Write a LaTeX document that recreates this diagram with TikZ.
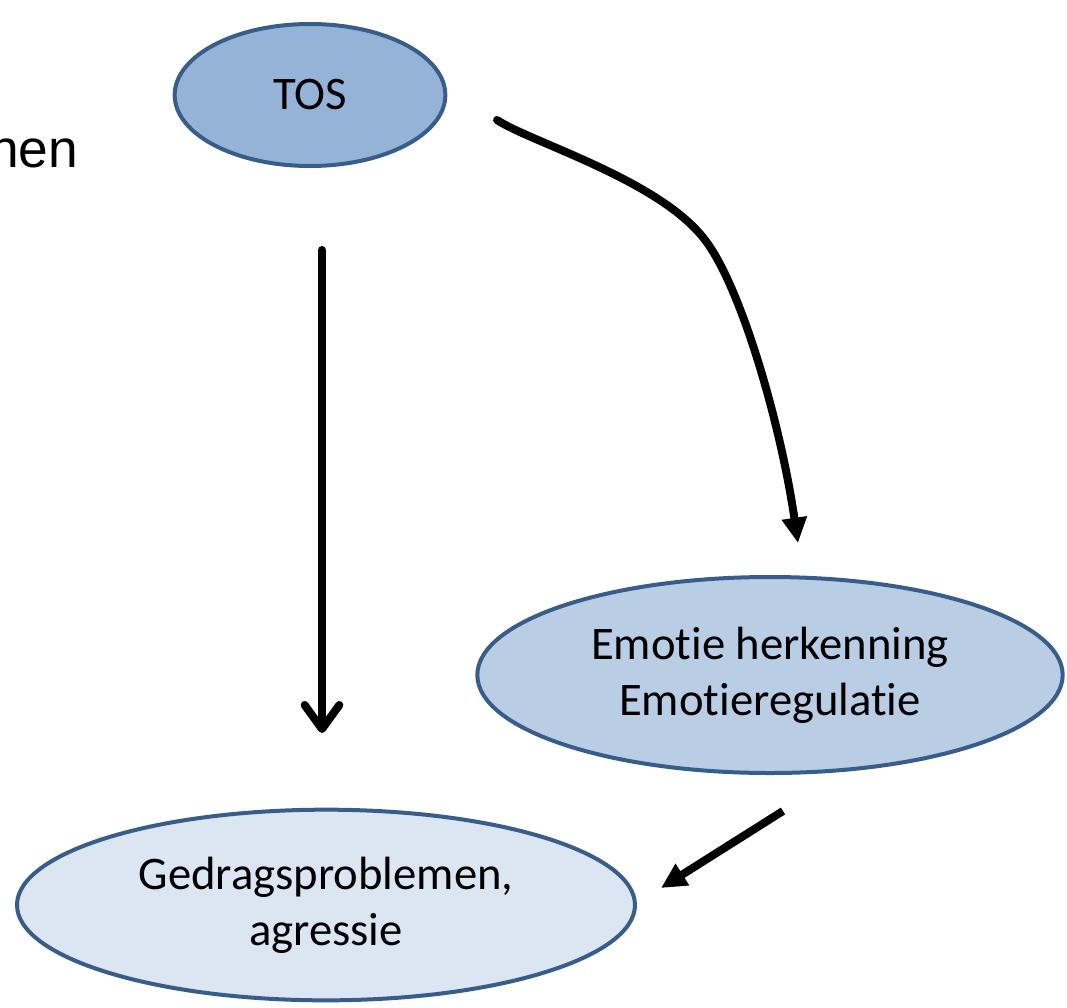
\documentclass[tikz,border=0pt]{standalone}
\usepackage{fontspec}
\setmainfont[Ligatures=NoCommon]{Carlito}
\newfontfamily\arialfont{Liberation Sans}
\usetikzlibrary{shapes.geometric,arrows.meta}
\definecolor{rand}{HTML}{385D8A}
\definecolor{tosfill}{HTML}{95B3D7}
\definecolor{emofill}{HTML}{B9CDE5}
\definecolor{gedfill}{HTML}{DCE6F2}
\begin{document}
\begin{tikzpicture}[x=0.75pt, y=-0.75pt, line width=6pt,
main/.style = {draw=rand, line width=3pt, ellipse, inner sep=0pt, align=center,
  font=\fontsize{35}{42}\selectfont},
pijl/.style = {-{Triangle[length=19pt, width=18pt]}},
rechtpijl/.style = {line cap=round, -{Straight Barb[round, length=18pt, width=26pt]}}]
    \clip (0,0) rectangle (1067,1007);
    \useasboundingbox (0,0) rectangle (1067,1007);

    \node (rest) [anchor=base east, inner sep=0pt, font=\arialfont\fontsize{40}{48}\selectfont] at (82,167) {nen};

    \node[main, fill=tosfill, minimum width=203pt, minimum height=106.5pt] (tos) at (310,95) {TOS};
    \node[main, fill=emofill, minimum width=439pt, minimum height=147pt] (emo) at (770,675)
        {Emot\kern0pt ie herkenning\\Emot\kern0pt ieregulat\kern0pt ie};
    \node[main, fill=gedfill, minimum width=463.5pt, minimum height=143pt] (ged) at (326,905)
        {Gedragsproblemen,\\agressie};

    \coordinate (tos-links) at (322,250);
    \coordinate (ged-boven) at (322,733);
    \coordinate (tos-rechts) at (497,120);
    \coordinate (bocht) at (705,240);
    \coordinate (emo-boven) at (798,543);
    \coordinate (emo-onder) at (783,811);
    \coordinate (ged-rechts) at (661,888);

    \draw[rechtpijl] (tos-links) -- (ged-boven);
    \draw[pijl, line cap=round] (tos-rechts) .. controls (530,142) and (660,180) .. (bocht)
        .. controls (740,285) and (780,420) .. (emo-boven);
    \draw[pijl] (emo-onder) -- (ged-rechts);
\end{tikzpicture}
\end{document}
